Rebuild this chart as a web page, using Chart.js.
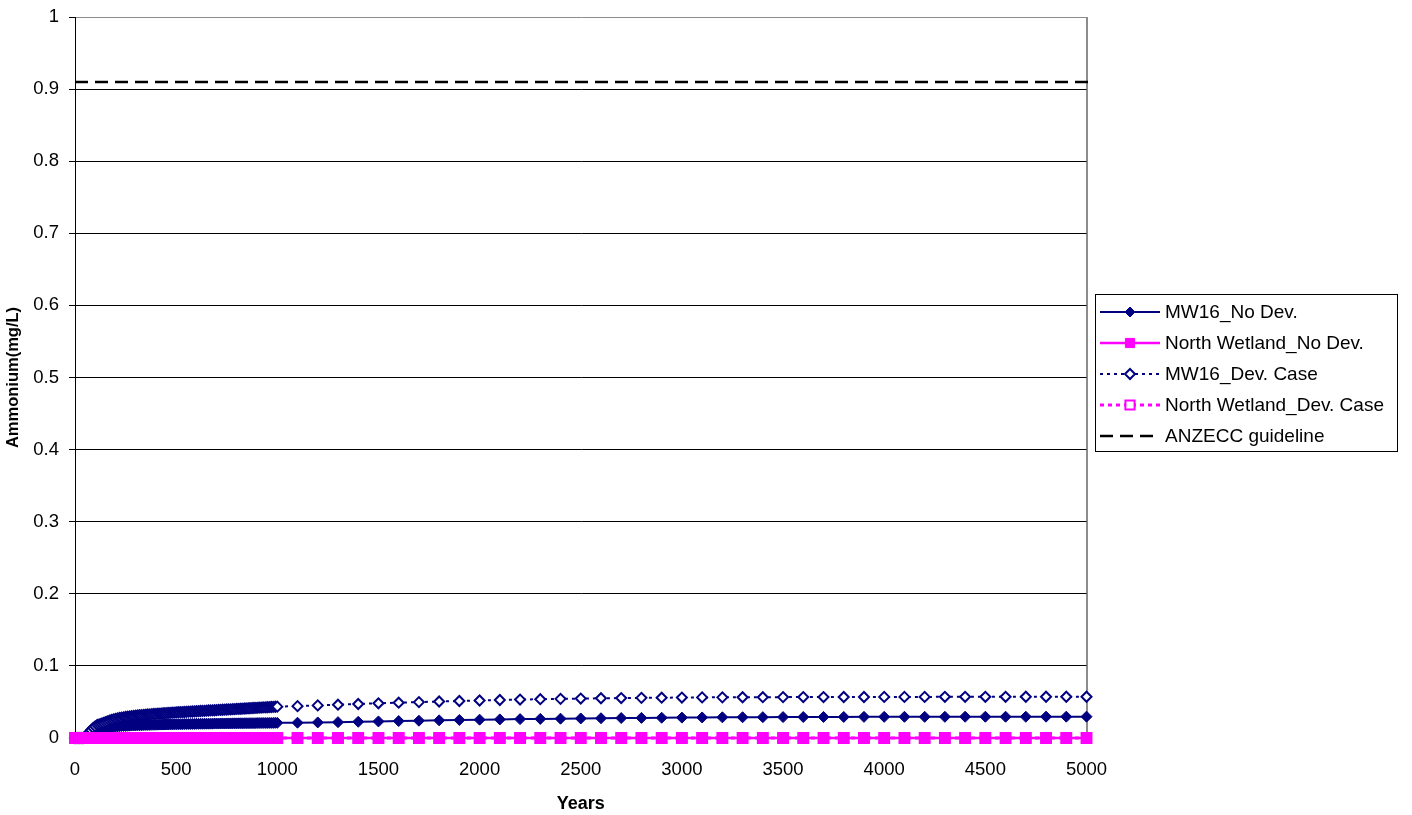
<!DOCTYPE html>
<html><head><meta charset="utf-8">
<script src="https://cdn.jsdelivr.net/npm/chart.js@4/dist/chart.umd.min.js"></script>
<style>html,body{margin:0;padding:0;background:#fff;}#wrap{width:1412px;height:815px;position:relative;}</style>
</head><body><div id="wrap"><canvas id="c" width="1412" height="815"></canvas></div>
<script>
const years = [
  0,10,20,30,40,50,60,70,80,90,
  100,110,120,130,140,150,160,170,180,190,
  200,210,220,230,240,250,260,270,280,290,
  300,310,320,330,340,350,360,370,380,390,
  400,410,420,430,440,450,460,470,480,490,
  500,510,520,530,540,550,560,570,580,590,
  600,610,620,630,640,650,660,670,680,690,
  700,710,720,730,740,750,760,770,780,790,
  800,810,820,830,840,850,860,870,880,890,
  900,910,920,930,940,950,960,970,980,990,
  1000,
  1100,1200,1300,1400,1500,1600,1700,1800,1900,2000,
  2100,2200,2300,2400,2500,2600,2700,2800,2900,3000,
  3100,3200,3300,3400,3500,3600,3700,3800,3900,4000,
  4100,4200,4300,4400,4500,4600,4700,4800,4900,5000
];
const mw16NoDev = [
  0,0,0,0,0,0,0.002,0.004,0.006,0.008,
  0.0095,0.0108,0.0118,0.0127,0.0134,0.014,0.0145,0.0149,0.0153,0.0156,
  0.0159,0.0161,0.0163,0.0165,0.0167,0.0168,0.017,0.0171,0.0173,0.0174,
  0.0175,0.0176,0.0177,0.0178,0.0179,0.018,0.0181,0.0182,0.0183,0.0183,
  0.0184,0.0185,0.0186,0.0186,0.0187,0.0188,0.0188,0.0189,0.019,0.019,
  0.0191,0.0191,0.0192,0.0192,0.0193,0.0193,0.0194,0.0194,0.0195,0.0195,
  0.0196,0.0196,0.0197,0.0197,0.0198,0.0198,0.0198,0.0199,0.0199,0.02,
  0.02,0.02,0.0201,0.0201,0.0201,0.0202,0.0202,0.0202,0.0203,0.0203,
  0.0203,0.0204,0.0204,0.0204,0.0205,0.0205,0.0205,0.0206,0.0206,0.0206,
  0.0207,0.0207,0.0207,0.0208,0.0208,0.0208,0.0209,0.0209,0.0209,0.021,
  0.021,
  0.0212,0.0216,0.022,0.0225,0.023,0.0235,0.024,0.0245,0.025,0.0254,
  0.0258,0.0262,0.0265,0.0268,0.0271,0.0274,0.0277,0.0279,0.0281,0.0283,
  0.0285,0.0287,0.0288,0.0289,0.029,0.0291,0.0292,0.0292,0.0293,0.0293,
  0.0294,0.0294,0.0294,0.0295,0.0295,0.0295,0.0295,0.0296,0.0296,0.0296
];
const northWetlandNoDev = [
  0,0,0,0,0,0,0,0,0,0, 0,0,0,0,0,0,0,0,0,0, 0,0,0,0,0,0,0,0,0,0,
  0,0,0,0,0,0,0,0,0,0, 0,0,0,0,0,0,0,0,0,0, 0,0,0,0,0,0,0,0,0,0,
  0,0,0,0,0,0,0,0,0,0, 0,0,0,0,0,0,0,0,0,0, 0,0,0,0,0,0,0,0,0,0,
  0,0,0,0,0,0,0,0,0,0, 0,
  0,0,0,0,0,0,0,0,0,0, 0,0,0,0,0,0,0,0,0,0,
  0,0,0,0,0,0,0,0,0,0, 0,0,0,0,0,0,0,0,0,0
];
const mw16DevCase = [
  0,0,0,0,0,0.001,0.004,0.008,0.011,0.014,
  0.016,0.018,0.019,0.02,0.021,0.022,0.023,0.024,0.025,0.0258,
  0.0265,0.0271,0.0277,0.0282,0.0287,0.0291,0.0295,0.0299,0.0303,0.0306,
  0.0309,0.0312,0.0315,0.0318,0.0321,0.0323,0.0326,0.0328,0.0331,0.0333,
  0.0335,0.0337,0.0339,0.0341,0.0343,0.0345,0.0347,0.0349,0.0351,0.0353,
  0.0355,0.0357,0.0358,0.036,0.0361,0.0363,0.0365,0.0366,0.0368,0.0369,
  0.0371,0.0373,0.0374,0.0376,0.0377,0.0379,0.0381,0.0382,0.0384,0.0385,
  0.0387,0.0389,0.039,0.0392,0.0393,0.0395,0.0397,0.0398,0.04,0.0401,
  0.0403,0.0405,0.0406,0.0408,0.0409,0.0411,0.0413,0.0414,0.0416,0.0417,
  0.0419,0.0421,0.0422,0.0424,0.0425,0.0427,0.0429,0.043,0.0432,0.0433,
  0.0435,
  0.0442,0.0452,0.0462,0.0472,0.0481,0.049,0.0498,0.0506,0.0513,0.052,
  0.0527,0.0533,0.0538,0.0543,0.0547,0.0551,0.0554,0.0557,0.0559,0.0561,
  0.0563,0.0564,0.0565,0.0566,0.0567,0.0568,0.0568,0.0569,0.0569,0.057,
  0.057,0.057,0.0571,0.0571,0.0571,0.0571,0.0572,0.0572,0.0572,0.0572
];
const northWetlandDevCase = [
  0,0,0,0,0,0,0,0,0,0, 0,0,0,0,0,0,0,0,0,0, 0,0,0,0,0,0,0,0,0,0,
  0,0,0,0,0,0,0,0,0,0, 0,0,0,0,0,0,0,0,0,0, 0,0,0,0,0,0,0,0,0,0,
  0,0,0,0,0,0,0,0,0,0, 0,0,0,0,0,0,0,0,0,0, 0,0,0,0,0,0,0,0,0,0,
  0,0,0,0,0,0,0,0,0,0, 0,
  0,0,0,0,0,0,0,0,0,0, 0,0,0,0,0,0,0,0,0,0,
  0,0,0,0,0,0,0,0,0,0, 0,0,0,0,0,0,0,0,0,0
];
const anzeccYears = [0, 5035];
const anzeccValues = [0.91, 0.91];
const seriesNames = ['MW16_No Dev.', 'North Wetland_No Dev.', 'MW16_Dev. Case', 'North Wetland_Dev. Case', 'ANZECC guideline'];
const xTickLabels = ['0','500','1000','1500','2000','2500','3000','3500','4000','4500','5000'];
const yTickLabels = ['0','0.1','0.2','0.3','0.4','0.5','0.6','0.7','0.8','0.9','1'];
const xTitle = 'Years';
const yTitle = 'Ammonium(mg/L)';

const FONT = '"Liberation Sans", Arial, sans-serif';
Chart.defaults.font.family = FONT;
Chart.defaults.color = '#000';

function pts(xs, ys) { return xs.map((x, i) => ({x: x, y: ys[i]})); }

const NAVY = '#000080', MAG = '#FF00FF';

const datasets = [
  {label: seriesNames[0], data: pts(years, mw16NoDev), borderColor: NAVY, borderWidth: 2,
   pointStyle: 'rectRot', pointRadius: 5.5, pointBackgroundColor: NAVY, pointBorderColor: NAVY, pointBorderWidth: 1, order: 5},
  {label: seriesNames[1], data: pts(years, northWetlandNoDev), borderColor: MAG, borderWidth: 2.5,
   pointStyle: 'rect', pointRadius: 7, pointBackgroundColor: MAG, pointBorderColor: MAG, pointBorderWidth: 1, order: 4},
  {label: seriesNames[2], data: pts(years, mw16DevCase), borderColor: NAVY, borderWidth: 2, borderDash: [3, 4],
   pointStyle: 'rectRot', pointRadius: 5, pointBackgroundColor: '#FFFFFF', pointBorderColor: NAVY, pointBorderWidth: 2, order: 3},
  {label: seriesNames[3], data: pts(years, northWetlandDevCase), borderColor: MAG, borderWidth: 3, borderDash: [4, 4],
   pointStyle: 'rect', pointRadius: 7, pointBackgroundColor: 'rgba(0,0,0,0)', pointBorderColor: MAG, pointBorderWidth: 2, order: 2},
  {label: seriesNames[4], data: pts(anzeccYears, anzeccValues), borderColor: '#000', borderWidth: 2.5, borderDash: [13, 7],
   pointRadius: 0, order: 1}
];
datasets.forEach(d => { d.clip = false; d.tension = 0; d.fill = false; d.pointHoverRadius = d.pointRadius; });

function drawMarker(ctx, style, r, x, y) {
  ctx.beginPath();
  if (style === 'rectRot') {
    ctx.moveTo(x - r, y); ctx.lineTo(x, y - r); ctx.lineTo(x + r, y); ctx.lineTo(x, y + r); ctx.closePath();
  } else {
    const s = Math.SQRT1_2 * r;
    ctx.rect(x - s, y - s, 2 * s, 2 * s);
  }
  ctx.fill(); ctx.stroke();
}

const legendPlugin = {
  id: 'boxLegend',
  afterDraw(chart) {
    const ctx = chart.ctx;
    ctx.save();
    ctx.strokeStyle = '#000'; ctx.lineWidth = 1; ctx.setLineDash([]);
    ctx.strokeRect(1095.5, 294.5, 302, 157);
    const rows = [312, 343, 374, 405, 436];
    chart.data.datasets.forEach((ds, i) => {
      const y = rows[i];
      ctx.save();
      ctx.strokeStyle = ds.borderColor; ctx.lineWidth = ds.borderWidth;
      ctx.setLineDash(ds.borderDash || []);
      ctx.beginPath(); ctx.moveTo(1100, y); ctx.lineTo(1160, y); ctx.stroke();
      ctx.setLineDash([]);
      if (ds.pointRadius > 0) {
        ctx.fillStyle = ds.pointBackgroundColor === 'rgba(0,0,0,0)' ? '#FFFFFF' : ds.pointBackgroundColor;
        ctx.strokeStyle = ds.pointBorderColor; ctx.lineWidth = ds.pointBorderWidth;
        drawMarker(ctx, ds.pointStyle, ds.pointStyle === 'rect' ? 6.5 : 5, 1130, y);
      }
      ctx.restore();
      ctx.fillStyle = '#000'; ctx.font = '19px ' + FONT; ctx.textBaseline = 'middle'; ctx.textAlign = 'left';
      ctx.fillText(ds.label, 1165, y + 1);
    });
    ctx.restore();
  }
};

new Chart(document.getElementById('c'), {
  type: 'line',
  data: {datasets: datasets},
  plugins: [legendPlugin],
  options: {
    responsive: false, animation: false,
    layout: {padding: {top: 17, right: 325.5, left: 0, bottom: 0}},
    plugins: {legend: {display: false}, tooltip: {enabled: false}},
    events: [],
    scales: {
      x: {
        type: 'linear', min: 0, max: 5000,
        afterFit(s) { s.height = 77; s.paddingLeft = 0; s.paddingRight = 0; },
        ticks: {stepSize: 500, padding: 15, font: {size: 18.5}, color: '#000', maxRotation: 0,
                callback: (v, i) => xTickLabels[i]},
        grid: {drawOnChartArea: true, drawTicks: true, tickLength: 6, tickColor: '#000', tickWidth: 1,
               color: c => (c.tick && c.tick.value === 5000) ? '#8c8c8c' : 'rgba(0,0,0,0)', lineWidth: 2},
        border: {display: true, color: '#000', width: 1},
        title: {display: true, text: xTitle, font: {size: 18, weight: 'bold'}, color: '#000', padding: {top: 0, bottom: 0}}
      },
      y: {
        type: 'linear', min: 0, max: 1,
        afterFit(s) { s.width = 75; s.paddingTop = 0; s.paddingBottom = 0; },
        ticks: {stepSize: 0.1, padding: 10, font: {size: 18.5}, color: '#000',
                callback: (v, i) => yTickLabels[i]},
        grid: {drawOnChartArea: true, drawTicks: true, tickLength: 6, tickColor: '#000',
               color: c => (c.tick && Math.abs(c.tick.value - 1) < 1e-9) ? '#8c8c8c' : '#000', lineWidth: 1},
        border: {display: true, color: '#000', width: 1},
        title: {display: true, text: yTitle, font: {size: 16.5, weight: 'bold'}, color: '#000', padding: {top: 4, bottom: 0}}
      }
    }
  }
});
</script></body></html>
